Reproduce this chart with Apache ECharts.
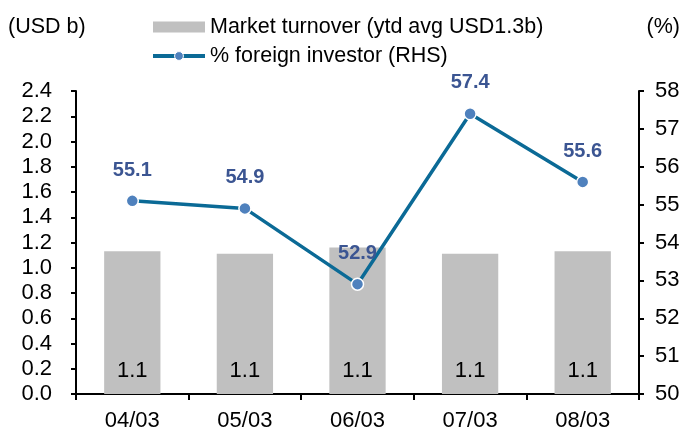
<!DOCTYPE html>
<html><head><meta charset="utf-8">
<script src="https://cdn.jsdelivr.net/npm/echarts@6/dist/echarts.min.js"></script>
<style>html,body{margin:0;padding:0;background:#fff}#c{width:684px;height:432px}</style>
</head><body><div id="c"></div>
<script>
const categories = ['04/03','05/03','06/03','07/03','08/03'];
const turnover = [1.13, 1.11, 1.16, 1.11, 1.13];
const turnoverLabels = ['1.1','1.1','1.1','1.1','1.1'];
const foreignPct = [55.1, 54.9, 52.9, 57.4, 55.6];
const barName = 'Market turnover (ytd avg USD1.3b)';
const lineName = '% foreign investor (RHS)';

const font = 'Liberation Sans, Arial, sans-serif';
const fs = 22;
const chart = echarts.init(document.getElementById('c'));
chart.setOption({
  animation: false,
  textStyle: {fontFamily: font},
  grid: {left: 76, right: 45, top: 91, bottom: 36},
  legend: {
    orient: 'vertical', left: 151, top: 16, itemGap: 7, padding: 0,
    itemWidth: 52, itemHeight: 11,
    textStyle: {fontSize: 21.5, color: '#000', fontFamily: font},
    data: [
      {name: barName, icon: 'rect'},
      {name: lineName, lineStyle: {width: 4, color: '#0b6a96'}, itemStyle: {color: '#4f81bd', borderColor: '#fff', borderWidth: 1}}
    ]
  },
  graphic: [
    {type: 'text', left: 8, top: 16, style: {text: '(USD b)', fontSize: 21.5, fill: '#000', fontFamily: font}},
    {type: 'text', right: 4, top: 16, style: {text: '(%)', fontSize: 21.5, fill: '#000', fontFamily: font}}
  ],
  xAxis: {
    type: 'category', data: categories,
    axisLine: {lineStyle: {color: '#000', width: 2}},
    axisTick: {show: true, length: 6, lineStyle: {color: '#000', width: 2}},
    axisLabel: {fontSize: fs, color: '#000', margin: 16}
  },
  yAxis: [
    {type: 'value', min: 0, max: 2.4, interval: 0.2,
     axisLine: {show: true, lineStyle: {color: '#000', width: 2}},
     axisTick: {show: true, length: 5, lineStyle: {color: '#000', width: 2}},
     splitLine: {show: false},
     axisLabel: {fontSize: fs, color: '#000', margin: 24, formatter: v => v.toFixed(1)}},
    {type: 'value', min: 50, max: 58, interval: 1, position: 'right',
     axisLine: {show: true, lineStyle: {color: '#000', width: 2}},
     axisTick: {show: true, length: 5, lineStyle: {color: '#000', width: 2}},
     splitLine: {show: false},
     axisLabel: {fontSize: fs, color: '#000', margin: 16}}
  ],
  series: [
    {name: barName, type: 'bar', data: turnover, barWidth: '50%', yAxisIndex: 0,
     itemStyle: {color: '#c0c0c0'},
     label: {show: true, position: 'insideBottom', distance: 12, fontSize: fs, color: '#000',
       formatter: p => turnoverLabels[p.dataIndex]}},
    {name: lineName, type: 'line', data: foreignPct, yAxisIndex: 1,
     lineStyle: {color: '#0b6a96', width: 3.5},
     symbol: 'circle', symbolSize: 12,
     itemStyle: {color: '#4f81bd', borderColor: '#fff', borderWidth: 1.5},
     label: {show: true, position: 'top', distance: 14, fontSize: 20, fontWeight: 'bold', color: '#3b5592',
       formatter: p => p.value.toFixed(1)},
     z: 5}
  ]
});
</script></body></html>
